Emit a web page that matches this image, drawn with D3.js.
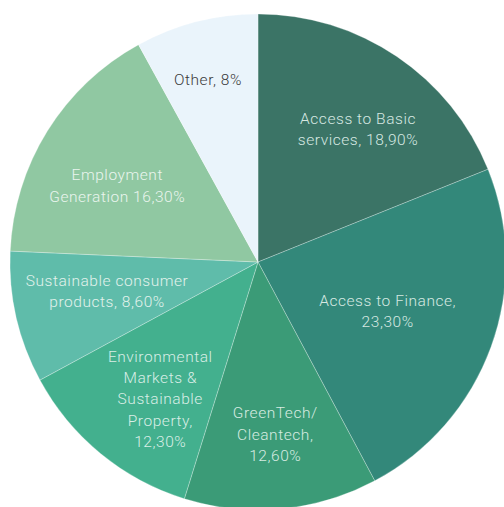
<!DOCTYPE html>
<html>
<head>
<meta charset="utf-8">
<script src="https://cdn.jsdelivr.net/npm/d3@7"></script>
<style>
  html, body { margin: 0; padding: 0; background: #ffffff; }
  svg { display: block; }
</style>
</head>
<body>
<svg id="chart" width="504" height="507"></svg>
<script>
// Portfolio split by impact theme (percent of total)
const categories = [
  "Access to Basic services",
  "Access to Finance",
  "GreenTech/Cleantech",
  "Environmental Markets & Sustainable Property",
  "Sustainable consumer products",
  "Employment Generation",
  "Other"
];
const values = [18.9, 23.3, 12.6, 12.3, 8.6, 16.3, 8];
const labelLines = [
  ["Access to Basic", "services, 18,90%"],
  ["Access to Finance,", "23,30%"],
  ["GreenTech/", "Cleantech,", "12,60%"],
  ["Environmental", "Markets &", "Sustainable", "Property,", "12,30%"],
  ["Sustainable consumer", "products, 8,60%"],
  ["Employment", "Generation 16,30%"],
  ["Other, 8%"]
];
const colors = ["#3b7466", "#33887a", "#3b9b77", "#43b08e", "#5fbcaa", "#90c8a2", "#eaf4fb"];
const textColors = ["#d6e8e2", "#d6e8e2", "#d6ebe1", "#d9eee6", "#e2f2ec", "#eaf5ee", "#3a3a3a"];

// how far out along each wedge its label sits (fraction of radius)
const labelReach = [0.67, 0.56, 0.70, 0.68, 0.62, 0.645, 0.76];
// small angular nudges (degrees) for label placement
const labelTurn = [3, 1, -0.3, -4, 2, -3.5, -1];

const svg = d3.select("#chart");
const cx = 258, cy = 262, R = 248;
const g = svg.append("g").attr("transform", `translate(${cx},${cy})`);

const pie = d3.pie().sort(null).value(d => d.value);
const data = categories.map((c, i) => ({ name: c, value: values[i], i }));
const arcs = pie(data);

const arc = d3.arc().innerRadius(0).outerRadius(R);

g.selectAll("path.slice")
  .data(arcs)
  .join("path")
  .attr("class", "slice")
  .attr("d", arc)
  .attr("fill", d => colors[d.index])
  .attr("stroke", "rgba(255,255,255,0.45)")
  .attr("stroke-width", 0.6);

const lineH = 21.3;
g.selectAll("text.lbl")
  .data(arcs)
  .join("text")
  .attr("class", "lbl")
  .attr("text-anchor", "middle")
  .attr("font-family", "Roboto, 'Noto Sans', sans-serif")
  .attr("font-weight", 300)
  .attr("font-size", 15.5)
  .attr("letter-spacing", 0.55)
  .attr("fill", d => textColors[d.index])
  .each(function (d) {
    const i = d.index;
    const a = (d.startAngle + d.endAngle) / 2 + labelTurn[i] * Math.PI / 180;
    const r = R * labelReach[i];
    const x = Math.sin(a) * r;
    const y = -Math.cos(a) * r;
    const lines = labelLines[i];
    const y0 = y - (lines.length - 1) * lineH / 2 + 5;
    d3.select(this).selectAll("tspan")
      .data(lines)
      .join("tspan")
      .attr("x", x)
      .attr("y", (t, k) => y0 + k * lineH)
      .text(t => t);
  });
</script>
</body>
</html>
